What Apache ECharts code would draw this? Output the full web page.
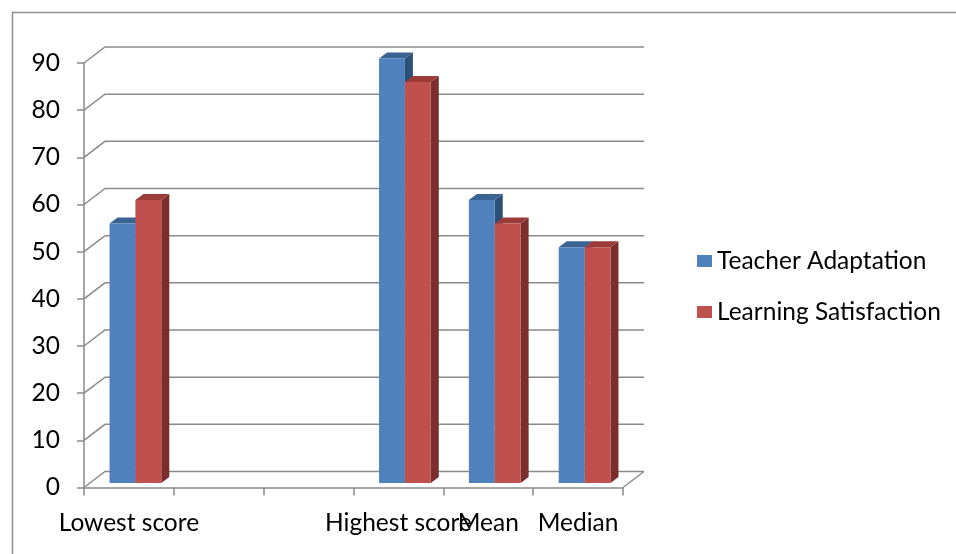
<!DOCTYPE html>
<html>
<head>
<meta charset="utf-8">
<script src="https://cdn.jsdelivr.net/npm/echarts@6/dist/echarts.min.js"></script>
<style>
    html, body { margin: 0; padding: 0; background: #fff; }
    #chart { width: 956px; height: 554px; }
</style>
</head>
<body>
<div id="chart"></div>
<script>
const categories = ['Lowest score', '', '', 'Highest score', 'Mean', 'Median'];
const teacherAdaptation = [55, null, null, 90, 60, 50];
const learningSatisfaction = [60, null, null, 85, 55, 50];
const yTicks = [0, 10, 20, 30, 40, 50, 60, 70, 80, 90];

const lineColor = '#8a8a8a';
const font = 'Lato, "Open Sans", sans-serif';
const fontSize = 24.5;

// 3d look: back wall offset and bar plane offset
const wall = { dx: 21, dy: -16 };
const plane = { dx: 6.5, dy: -4.5 };
const depth = { dx: 8, dy: -6 };

const faces = [
    { front: '#4f81bd', top: '#3a6494', side: '#2d5079' },
    { front: '#c0504d', top: '#9c3c39', side: '#7b2e2c' },
];

const wallItem = (params, api) => {
    const cs = params.coordSys;
    const y = api.coord([0, api.value(1)])[1];
    const x0 = cs.x;
    const x1 = cs.x + cs.width;
    const style = { stroke: lineColor, lineWidth: 1.5, fill: null };
    const children = [{
        type: 'polyline',
        shape: { points: [[x0, y], [x0 + wall.dx, y + wall.dy], [x1 + wall.dx, y + wall.dy]] },
        style,
    }];
    if (api.value(1) === 0) {
        children.push({
            type: 'line',
            shape: { x1: x1, y1: y, x2: x1 + wall.dx, y2: y + wall.dy },
            style,
        });
    }
    return { type: 'group', children };
};

const barItem = (k) => (params, api) => {
    const v = api.value(1);
    if (isNaN(v)) return null;
    const i = api.value(0);
    const base = api.coord([i, 0]);
    const top = api.coord([i, v]);
    const barW = api.size([1, 0])[0] * 0.288;
    const left = base[0] + plane.dx - barW + k * barW;
    const right = left + barW;
    const yb = base[1] + plane.dy;
    const yt = top[1] + plane.dy;
    const c = faces[k];
    return {
        type: 'group',
        children: [
            {
                type: 'polygon',
                shape: { points: [[right, yb], [right + depth.dx, yb + depth.dy], [right + depth.dx, yt + depth.dy], [right, yt]] },
                style: { fill: c.side },
            },
            {
                type: 'polygon',
                shape: { points: [[left, yt], [left + depth.dx, yt + depth.dy], [right + depth.dx, yt + depth.dy], [right, yt]] },
                style: { fill: c.top },
            },
            {
                type: 'rect',
                shape: { x: left, y: yt, width: barW, height: yb - yt },
                style: { fill: c.front },
            },
        ],
    };
};

const toData = (arr) => arr.map((v, i) => [i, v === null ? NaN : v]);

const chart = echarts.init(document.getElementById('chart'), null, { renderer: 'canvas' });

chart.setOption({
    animation: false,
    backgroundColor: '#fff',
    graphic: [{
        type: 'rect',
        left: 10,
        top: 10,
        shape: { width: 980, height: 580 },
        style: { fill: null, stroke: '#8e8e8e', lineWidth: 1.5 },
        silent: true,
    }],
    grid: {
        left: 84,
        right: 333,
        top: 63,
        bottom: 66.5,
    },
    legend: {
        orient: 'vertical',
        left: 692,
        top: 243,
        itemWidth: 15,
        itemHeight: 12,
        itemGap: 25,
        icon: 'rect',
        textStyle: { fontFamily: font, fontSize: fontSize, color: '#000', lineHeight: 26 },
        data: ['Teacher Adaptation', 'Learning Satisfaction'],
    },
    xAxis: {
        type: 'category',
        data: categories,
        boundaryGap: true,
        axisLine: { lineStyle: { color: lineColor, width: 1.5 } },
        axisTick: { show: true, length: 8, alignWithLabel: false, lineStyle: { color: lineColor, width: 1.5 } },
        axisLabel: { interval: 0, margin: 23, fontFamily: font, fontSize: fontSize, color: '#000' },
        splitLine: { show: false },
    },
    yAxis: {
        type: 'value',
        min: 0,
        max: 90,
        interval: 10,
        axisLine: { show: true, lineStyle: { color: lineColor, width: 1.5 } },
        axisTick: { show: true, length: 7, lineStyle: { color: lineColor, width: 1.5 } },
        axisLabel: { margin: 24, fontFamily: font, fontSize: fontSize, color: '#000' },
        splitLine: { show: false },
    },
    series: [
        {
            name: 'walls',
            type: 'custom',
            renderItem: wallItem,
            data: yTicks.map((v) => [0, v]),
            silent: true,
            z: 1,
        },
        {
            name: 'Teacher Adaptation',
            type: 'custom',
            renderItem: barItem(0),
            itemStyle: { color: faces[0].front },
            data: toData(teacherAdaptation),
            z: 2,
        },
        {
            name: 'Learning Satisfaction',
            type: 'custom',
            renderItem: barItem(1),
            itemStyle: { color: faces[1].front },
            data: toData(learningSatisfaction),
            z: 3,
        },
    ],
});
</script>
</body>
</html>
